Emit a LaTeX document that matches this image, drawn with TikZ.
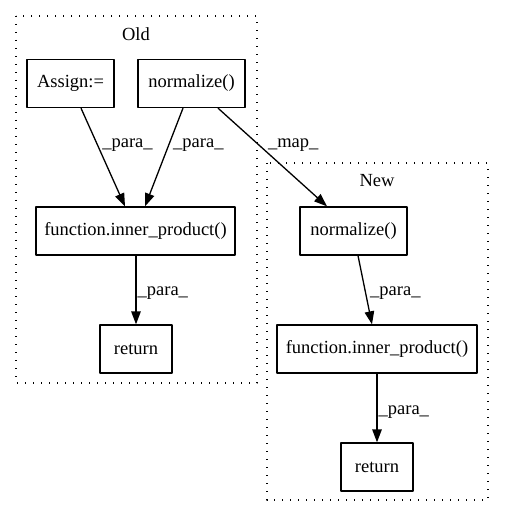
\documentclass[tikz,border=0pt]{standalone}
\usepackage{fontspec}
\setmainfont{Liberation Serif}
\usetikzlibrary{arrows.meta,positioning}

\begin{document}
\begin{tikzpicture}[x=1pt, y=-1pt, line width=1.3pt, line join=round,
  >={Triangle[length=13pt,width=9.5pt]},
  box/.style={draw, rectangle, minimum height=48pt, inner sep=0pt,
    font=\fontsize{18.5}{22}\selectfont},
  edgelabel/.style={inner sep=0pt, anchor=west, font=\fontsize{18.5}{22}\selectfont},
  cluster/.style={line width=1.3pt, dash pattern=on 1.3pt off 6.7pt}]
\useasboundingbox (0,0) rectangle (504,518);
% clusters
\draw[cluster] (16,16) rectangle (257,383);
\node[edgelabel, anchor=center] (oldtitle) at (136,34) {Old};
\draw[cluster] (267,163) rectangle (488,500);
\node[edgelabel, anchor=center] (newtitle) at (377,181) {New};
% old side
\node[box, minimum width=87pt] (assign) at (70.5,83.5) {Assign:=};
\node[box, minimum width=107pt] (normold) at (191.5,83.5) {normalize()};
\node[box, minimum width=199pt] (innerold) at (135.5,231) {function.inner\_product()};
\node[box, minimum width=72pt] (retold) at (136,349) {return};
% new side
\node[box, minimum width=107pt] (normnew) at (353.5,231) {normalize()};
\node[box, minimum width=200pt] (innernew) at (377,349) {function.inner\_product()};
\node[box, minimum width=72pt] (retnew) at (377,467) {return};
% edges
\draw[->] ([xshift=10.5pt]assign.south) -- node[edgelabel, pos=0.38, xshift=4pt] {\_para\_} ([xshift=-10.5pt]innerold.north);
\draw[->] ([xshift=-8.5pt]normold.south) -- node[edgelabel, pos=0.38, xshift=4pt] {\_para\_} ([xshift=9.5pt]innerold.north);
\draw[->] ([xshift=26.5pt]normold.south) -- node[edgelabel, pos=0.38, xshift=8pt] {\_map\_} ([xshift=-26.5pt]normnew.north);
\draw[->] ([xshift=0.5pt]innerold.south) -- node[edgelabel, pos=0.54, xshift=1pt] {\_para\_} (retold.north);
\draw[->] ([xshift=4.5pt]normnew.south) -- node[edgelabel, pos=0.54, xshift=4pt] {\_para\_} ([xshift=-5pt]innernew.north);
\draw[->] (innernew.south) -- node[edgelabel, pos=0.56, xshift=1pt] {\_para\_} (retnew.north);
\end{tikzpicture}
\end{document}
